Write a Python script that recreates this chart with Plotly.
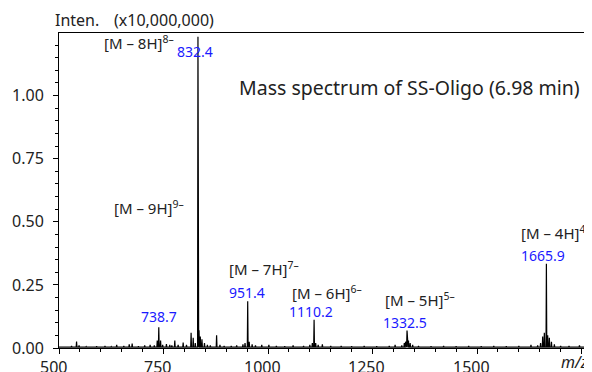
import plotly.graph_objects as go

# ---------------- data ----------------
peak_mz = [512, 530, 542, 548, 565, 590, 610, 625, 638, 655, 668, 675, 690, 705, 718, 728,
           735, 738.7, 743, 748, 757, 765, 770, 777, 785, 797, 805, 816, 821, 826, 832.4,
           835, 838, 842, 848, 855, 862, 877, 885, 895, 912, 925, 940, 945, 951.4, 955,
           962, 970, 985, 1002, 1020, 1040, 1060, 1085, 1100, 1106, 1110.2, 1114, 1120,
           1130, 1150, 1175, 1200, 1230, 1260, 1290, 1304, 1320, 1326, 1329, 1332.5, 1336,
           1340, 1346, 1360, 1390, 1420, 1450, 1480, 1510, 1540, 1570, 1600, 1629, 1645,
           1652, 1657, 1661, 1665.9, 1669, 1673, 1678, 1685, 1700, 1720, 1745, 1760]
peak_int = [0.006, 0.008, 0.026, 0.010, 0.006, 0.007, 0.008, 0.006, 0.012, 0.008, 0.015, 0.018,
            0.007, 0.010, 0.012, 0.010, 0.030, 0.082, 0.030, 0.012, 0.016, 0.012, 0.010, 0.030,
            0.012, 0.022, 0.012, 0.060, 0.040, 0.020, 1.233, 0.070, 0.045, 0.035, 0.020, 0.012,
            0.010, 0.050, 0.012, 0.008, 0.008, 0.010, 0.015, 0.020, 0.185, 0.025, 0.015, 0.010,
            0.012, 0.012, 0.008, 0.007, 0.010, 0.008, 0.012, 0.020, 0.112, 0.020, 0.012, 0.015,
            0.008, 0.008, 0.007, 0.008, 0.007, 0.008, 0.012, 0.010, 0.020, 0.025, 0.069, 0.030,
            0.020, 0.012, 0.008, 0.007, 0.008, 0.007, 0.008, 0.007, 0.008, 0.007, 0.008, 0.012,
            0.010, 0.020, 0.045, 0.060, 0.334, 0.050, 0.040, 0.025, 0.015, 0.008, 0.008, 0.010,
            0.007]
baseline_level = 0.004

ion_labels = ["[M – 8H]<sup>8–</sup>", "[M – 9H]<sup>9–</sup>", "[M – 7H]<sup>7–</sup>",
              "[M – 6H]<sup>6–</sup>", "[M – 5H]<sup>5–</sup>", "[M – 4H]<sup>4–</sup>"]
mz_labels = ["832.4", "738.7", "951.4", "1110.2", "1332.5", "1665.9"]

x_tickvals = [500, 750, 1000, 1250, 1500, 1750]
x_ticktext = ["500", "750", "1000", "1250", "1500", ""]
y_tickvals = [0.0, 0.25, 0.50, 0.75, 1.00]
title_text = "Mass spectrum of SS-Oligo (6.98 min)"

# ---------------- layout constants ----------------
ion_pos = [(602, 1.211), (626, 0.557), (901, 0.314), (1052, 0.219), (1276, 0.192), (1601, 0.458)]
mz_pos = [(778, 1.174), (691, 0.123), (901, 0.219), (1046, 0.143), (1270, 0.103), (1601, 0.367)]

FONT = "Noto Sans"
TXT = "#222222"
BLUE = "#1a1aff"

# build stick profile from peak list
xs, ys = [500], [baseline_level]
w = 0.9
for m, h in zip(peak_mz, peak_int):
    xs += [m - w, m, m + w]
    ys += [baseline_level, h, baseline_level]
xs.append(1775)
ys.append(baseline_level)

fig = go.Figure()
fig.add_trace(go.Scatter(x=xs, y=ys, mode="lines",
                         line=dict(color="black", width=1.2),
                         fill="tozeroy", fillcolor="rgba(120,120,120,0.8)",
                         hoverinfo="skip", showlegend=False))

ann = []
for t, (x, y) in zip(ion_labels, ion_pos):
    ann.append(dict(x=x, y=y, xref="x", yref="y", text=t, showarrow=False,
                    xanchor="left", yanchor="middle",
                    font=dict(family=FONT, size=15, color=TXT)))
for t, (x, y) in zip(mz_labels, mz_pos):
    ann.append(dict(x=x, y=y, xref="x", yref="y", text=t, showarrow=False,
                    xanchor="left", yanchor="middle",
                    font=dict(family=FONT, size=14, color=BLUE)))
# x tick labels (slightly left of their ticks, as in the reference)
for v, t in zip(x_tickvals, x_ticktext):
    if t:
        ann.append(dict(x=v, y=-0.059, xref="x", yref="paper", text=t, showarrow=False,
                        xanchor="center", yanchor="middle", xshift=-6,
                        font=dict(family=FONT, size=16, color=TXT)))
ann.append(dict(x=-0.011, y=1.041, xref="paper", yref="paper", text="Inten.",
                showarrow=False, xanchor="left", yanchor="middle",
                font=dict(family=FONT, size=16, color=TXT)))
ann.append(dict(x=0.099, y=1.041, xref="paper", yref="paper", text="(x10,000,000)",
                showarrow=False, xanchor="left", yanchor="middle",
                font=dict(family=FONT, size=16, color=TXT)))
ann.append(dict(x=0.657, y=0.826, xref="paper", yref="paper", text=title_text,
                showarrow=False, xanchor="center", yanchor="middle",
                font=dict(family=FONT, size=19.5, color=TXT)))
ann.append(dict(x=0.968, y=-0.044, xref="paper", yref="paper", text="<i>m/z</i>",
                showarrow=False, xanchor="center", yanchor="middle",
                font=dict(family=FONT, size=16, color=TXT)))

# the page body adds an 8px offset, so the figure is 8px smaller on each side
fig.update_layout(
    width=584, height=364,
    margin=dict(l=51, r=0, t=25, b=24, autoexpand=False),
    paper_bgcolor="white", plot_bgcolor="white",
    font=dict(family=FONT, size=16, color=TXT),
    annotations=ann,
    xaxis=dict(range=[500, 1775], tickvals=x_tickvals, showticklabels=False,
               showline=True, linecolor="black", linewidth=1, mirror=True,
               ticks="outside", ticklen=5, tickcolor="black", showgrid=False,
               zeroline=False, automargin=False,
               minor=dict(dtick=50, tick0=500, ticks="outside", ticklen=3,
                          tickcolor="black", showgrid=False)),
    yaxis=dict(range=[0, 1.248], tickvals=y_tickvals, tickformat=".2f",
               showline=True, linecolor="black", linewidth=1,
               ticks="outside", ticklen=5, tickcolor="black", showgrid=False,
               zeroline=False, ticklabelstandoff=6, automargin=False,
               minor=dict(dtick=0.05, tick0=0, ticks="outside", ticklen=3,
                          tickcolor="black", showgrid=False)),
)

fig.write_html("out.html")
